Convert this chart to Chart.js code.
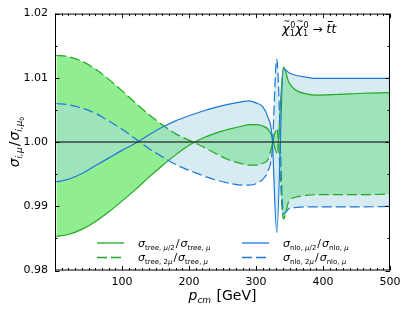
<!DOCTYPE html>
<html>
<head>
<meta charset="utf-8">
<script src="https://cdn.jsdelivr.net/npm/chart.js@4.4.1/dist/chart.umd.min.js"></script>
<style>
  html, body { margin: 0; padding: 0; background: #fff; }
  canvas { display: block; }
</style>
</head>
<body>
<canvas id="scaleChart" width="407" height="312"></canvas>
<script>
// p_cm values in GeV (shared by all four curves)
const pcm = [2, 20, 40, 60, 80, 100, 120, 140, 160, 180, 200, 220, 240, 260, 280, 290, 300, 310, 318, 324, 331, 341, 349, 359, 375, 390, 420, 460, 500];

// sigma_tree(mu/2) / sigma_tree(mu)
const treeHalf = [0.9853, 0.9856, 0.9864, 0.9876, 0.9891, 0.9908, 0.9926, 0.9945, 0.9963, 0.9980, 0.9995, 1.0006, 1.0014, 1.0020, 1.0025, 1.0027, 1.0027, 1.0025, 1.0020, 1.0008, 0.9983, 1.0117, 1.0093, 1.0081, 1.0075, 1.0073, 1.0074, 1.0076, 1.0077];
// sigma_tree(2mu) / sigma_tree(mu)
const treeDouble = [1.0135, 1.0133, 1.0126, 1.0114, 1.0098, 1.0080, 1.0061, 1.0043, 1.0027, 1.0013, 1.0003, 0.9993, 0.9982, 0.9972, 0.9966, 0.9964, 0.9964, 0.9967, 0.9973, 0.9995, 1.0021, 0.9880, 0.9908, 0.9914, 0.9917, 0.9918, 0.9918, 0.9918, 0.9919];
// sigma_nlo(mu/2) / sigma_nlo(mu)
const nloHalf = [0.9938, 0.9942, 0.9951, 0.9963, 0.9975, 0.9987, 0.9998, 1.0011, 1.0023, 1.0033, 1.0041, 1.0048, 1.0054, 1.0059, 1.0063, 1.0064, 1.0061, 1.0055, 1.0038, 1.0008, 0.9859, 1.0114, 1.0108, 1.0104, 1.0101, 1.0099, 1.0099, 1.0099, 1.0099];
// sigma_nlo(2mu) / sigma_nlo(mu)
const nloDouble = [1.0060, 1.0058, 1.0053, 1.0045, 1.0033, 1.0020, 1.0005, 0.9990, 0.9977, 0.9965, 0.9956, 0.9948, 0.9941, 0.9936, 0.9933, 0.9933, 0.9935, 0.9942, 0.9955, 0.9985, 1.0129, 0.9888, 0.9896, 0.9898, 0.9899, 0.9899, 0.9899, 0.9899, 0.9900];

const refLevel = 1.0;
const xLabels = [100, 200, 300, 400, 500];
const yLabels = [0.98, 0.99, 1.00, 1.01, 1.02];

const GREEN = '#22a822';
const BLUE = '#1d77d8';
const FONT = '"DejaVu Sans", sans-serif';

function pts(ys) {
    return pcm.map((x, i) => ({ x: x, y: ys[i] }));
}

function fnt(size, italic) {
    return (italic ? 'italic ' : '') + size + 'px ' + FONT;
}

// runs: [text, size, italic, dy, extraSpace]
function drawRuns(ctx, list, x, y, align) {
    let w = 0;
    for (const r of list) {
        ctx.font = fnt(r[1], r[2]);
        w += ctx.measureText(r[0]).width + (r[4] || 0);
    }
    let cx = align === 'center' ? x - w / 2 : x;
    for (const r of list) {
        ctx.font = fnt(r[1], r[2]);
        ctx.fillText(r[0], cx, y + r[3]);
        cx += ctx.measureText(r[0]).width + (r[4] || 0);
    }
}

function ratioLabel(kind, num) {
    const s = 11, sub = 7, d = 3;
    const numRuns = num === 'half'
        ? [[kind + ', ', sub, false, d], ['μ', sub, true, d], ['/2', sub, false, d, 1]]
        : [[kind + ', 2', sub, false, d], ['μ', sub, true, d, 1]];
    return [['σ', s, true, 0]].concat(numRuns, [
        ['/', s, false, 0, 1],
        ['σ', s, true, 0],
        [kind + ', ', sub, false, d],
        ['μ', sub, true, d]
    ]);
}

const decor = {
    id: 'decor',
    afterDraw(chart) {
        const ctx = chart.ctx;
        const a = chart.chartArea;
        const xs = chart.scales.x, ys = chart.scales.y;
        ctx.save();
        ctx.strokeStyle = '#000';
        ctx.lineWidth = 1;
        ctx.strokeRect(a.left + 0.5, a.top + 0.5, a.right - a.left - 1, a.bottom - a.top - 1);

        // inward ticks on all four sides
        ctx.beginPath();
        xs.ticks.forEach(t => {
            const px = Math.round(xs.getPixelForValue(t.value)) + 0.5;
            const len = t.value % 100 === 0 ? 4.5 : 2.5;
            ctx.moveTo(px, a.bottom); ctx.lineTo(px, a.bottom - len);
            ctx.moveTo(px, a.top); ctx.lineTo(px, a.top + len);
        });
        ys.ticks.forEach(t => {
            const py = Math.round(ys.getPixelForValue(t.value)) + 0.5;
            const len = Math.round(t.value * 1000) % 10 === 0 ? 4.5 : 2.5;
            ctx.moveTo(a.left, py); ctx.lineTo(a.left + len, py);
            ctx.moveTo(a.right, py); ctx.lineTo(a.right - len, py);
        });
        ctx.stroke();

        ctx.fillStyle = '#000';
        ctx.textBaseline = 'alphabetic';
        ctx.textAlign = 'left';

        // x axis title
        drawRuns(ctx, [['p', 14, true, 0], ['cm', 9, true, 3, 1], [' [GeV]', 14, false, 0]],
            (a.left + a.right) / 2, 300, 'center');

        // y axis title
        ctx.save();
        ctx.translate(14, (a.top + a.bottom) / 2);
        ctx.rotate(-Math.PI / 2);
        drawRuns(ctx, [
            ['σ', 14, true, 0], ['i,μ', 9, true, 3, 1],
            ['/', 14, false, 0, 1],
            ['σ', 14, true, 0], ['i,μ', 9, true, 3], ['0', 6, false, 5]
        ], 0, 4.5, 'center');
        ctx.restore();

        // process label
        let x = 282;
        const base = 33;
        for (let k = 0; k < 2; k++) {
            ctx.font = fnt(13, true);
            const wc = ctx.measureText('χ').width;
            ctx.fillText('χ', x, base);
            ctx.font = fnt(8, false);
            const wtl = ctx.measureText('~').width;
            ctx.fillText('~', x + wc / 2 - wtl / 2 + 1, base - 9);
            ctx.fillText('0', x + wc + 0.5, base - 5);
            ctx.fillText('1', x + wc, base + 3);
            x += wc + ctx.measureText('0').width + 0.5;
        }
        ctx.font = fnt(12, false);
        ctx.fillText(' → ', x, base);
        x += ctx.measureText(' → ').width;
        ctx.font = fnt(13, true);
        const wt = ctx.measureText('t').width;
        ctx.fillText('t', x, base);
        ctx.beginPath();
        ctx.moveTo(x + 1.5, base - 11.5); ctx.lineTo(x + wt + 1.5, base - 11.5);
        ctx.stroke();
        ctx.fillText('t', x + wt, base);

        // legend
        const rows = [243, 257.5];
        const items = [
            { x: 97, row: 0, color: GREEN, dash: [], label: ratioLabel('tree', 'half') },
            { x: 97, row: 1, color: GREEN, dash: [10, 4], label: ratioLabel('tree', 'double') },
            { x: 242, row: 0, color: BLUE, dash: [], label: ratioLabel('nlo', 'half') },
            { x: 242, row: 1, color: BLUE, dash: [10, 4], label: ratioLabel('nlo', 'double') }
        ];
        items.forEach(it => {
            const y = rows[it.row];
            ctx.save();
            ctx.strokeStyle = it.color;
            ctx.lineWidth = 1.3;
            ctx.setLineDash(it.dash);
            ctx.beginPath();
            ctx.moveTo(it.x, y); ctx.lineTo(it.x + 27, y);
            ctx.stroke();
            ctx.restore();
            drawRuns(ctx, it.label, it.x + 41, y + 3.5, 'left');
        });
        ctx.restore();
    }
};

const ctx = document.getElementById('scaleChart').getContext('2d');
new Chart(ctx, {
    type: 'line',
    data: {
        datasets: [
            {
                data: [{ x: 0, y: refLevel }, { x: 500, y: refLevel }],
                borderColor: 'rgba(40,40,40,0.85)', borderWidth: 1.5, pointRadius: 0, fill: false
            },
            {
                data: pts(nloHalf), borderColor: BLUE, borderWidth: 1.2, pointRadius: 0,
                cubicInterpolationMode: 'monotone', fill: '+1', backgroundColor: 'rgba(173,216,230,0.5)'
            },
            {
                data: pts(nloDouble), borderColor: BLUE, borderWidth: 1.2, pointRadius: 0,
                cubicInterpolationMode: 'monotone', borderDash: [10, 4], fill: false
            },
            {
                data: pts(treeHalf), borderColor: GREEN, borderWidth: 1.2, pointRadius: 0,
                cubicInterpolationMode: 'monotone', fill: '+1', backgroundColor: 'rgb(144,238,144)'
            },
            {
                data: pts(treeDouble), borderColor: GREEN, borderWidth: 1.2, pointRadius: 0,
                cubicInterpolationMode: 'monotone', borderDash: [10, 4], fill: false
            }
        ]
    },
    options: {
        responsive: false,
        animation: false,
        layout: { padding: { top: 11, right: 17, left: 0, bottom: 0 } },
        plugins: {
            legend: { display: false },
            tooltip: { enabled: false },
            filler: { drawTime: 'beforeDatasetsDraw' }
        },
        scales: {
            x: {
                type: 'linear', min: 0, max: 500,
                grid: { display: false, drawTicks: false },
                border: { display: false },
                afterFit: s => { s.height = 41.5; },
                ticks: {
                    stepSize: 10, autoSkip: false, maxRotation: 0, padding: 5,
                    color: '#000', font: { family: FONT, size: 11 },
                    callback: v => xLabels.includes(v) ? String(v) : ''
                }
            },
            y: {
                min: 0.98, max: 1.02,
                grid: { display: false, drawTicks: false },
                border: { display: false },
                afterFit: s => { s.width = 55; },
                ticks: {
                    stepSize: 0.005, autoSkip: false, padding: 7,
                    color: '#000', font: { family: FONT, size: 11 },
                    callback: v => {
                        const hit = yLabels.find(l => Math.abs(l - v) < 1e-6);
                        return hit !== undefined ? hit.toFixed(2) : '';
                    }
                }
            }
        }
    },
    plugins: [decor]
});
</script>
</body>
</html>
